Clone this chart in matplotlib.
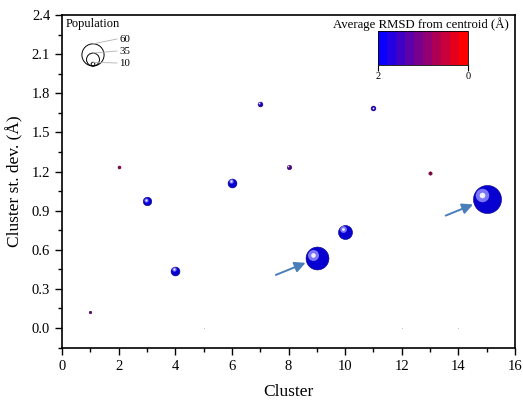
import numpy as np
import matplotlib
matplotlib.use("Agg")
import matplotlib.pyplot as plt
from matplotlib import transforms
from matplotlib.colors import LinearSegmentedColormap, Normalize, to_rgb
from matplotlib.ticker import MultipleLocator, AutoMinorLocator
from matplotlib.cm import ScalarMappable

plt.rcParams['font.family'] = ['Liberation Serif', 'DejaVu Serif']

# podaci procitani sa slike
cluster = [1, 2, 3, 4, 5, 6, 7, 8, 9, 10, 11, 12, 13, 14, 15]
st_dev = [0.12, 1.235, 0.975, 0.44, 0.0, 1.115, 1.72, 1.237, 0.535, 0.74, 1.685, 0.0, 1.186, 0.0, 0.99]
population = [7, 8, 23, 24, 0.4, 24, 13, 12, 62, 38, 13, 0.4, 9, 0.4, 76]
rmsd = [1.0, 0.6, 1.8, 1.8, 0.0, 1.8, 1.75, 1.3, 1.95, 1.95, 1.75, 0.0, 0.7, 0.0, 1.95]
legend_pop = [60, 35, 10]
strelice = [9, 15]  # klasteri na koje pokazuju strelice

W, H = 523, 407
fig = plt.figure(figsize=(W / 100, H / 100), dpi=100)
ax = fig.add_axes([62 / W, 1 - 348 / H, (515 - 62) / W, (348 - 15) / H])

# 0 -> crveno, 2 -> plavo
cmap = LinearSegmentedColormap.from_list("crveno_plavo", ["#ff0000", "#0a00ff"], N=10)
norm = Normalize(vmin=0, vmax=2)
K = 0.266  # promjer u tockama po jedinici populacije


def kugla(x, y, pop, boja):
    d = K * pop
    r = d / 2
    base = np.array(to_rgb(boja))
    tr = ax.transData
    ax.scatter([x], [y], s=d ** 2, color=base * 0.82, edgecolors=[base * 0.5], linewidths=0.4,
               transform=tr, zorder=3, clip_on=False)
    if d < 3:
        return
    off = transforms.offset_copy(tr, fig=fig, x=-0.3 * r, y=0.3 * r, units='points')
    svijetla = base * 0.45 + 0.55
    ax.scatter([x], [y], s=(0.48 * d) ** 2, color=svijetla, linewidths=0,
               transform=off, zorder=4, clip_on=False, alpha=0.85)
    ax.scatter([x], [y], s=(0.2 * d) ** 2, color="white", linewidths=0,
               transform=off, zorder=5, clip_on=False, alpha=0.9)


for c, s, p, r in zip(cluster, st_dev, population, rmsd):
    kugla(c, s, p, cmap(norm(r)))

# strelice
for c in strelice:
    i = cluster.index(c)
    r = K * population[i] / 2
    ax.annotate("", xy=(cluster[i], st_dev[i]), xytext=(-29.5, -12), textcoords="offset points",
                arrowprops=dict(arrowstyle="-|>", color="#4a7ebb", lw=1.4, shrinkA=0,
                                shrinkB=r + 0.5, mutation_scale=16), zorder=6)

ax.set_xlim(0, 16)
ax.set_ylim(-0.153, 2.4)
ax.xaxis.set_major_locator(MultipleLocator(2))
ax.xaxis.set_minor_locator(MultipleLocator(1))
ax.yaxis.set_major_locator(MultipleLocator(0.3))
ax.yaxis.set_minor_locator(AutoMinorLocator(2))
ax.tick_params(which="both", direction="out", top=False, right=False, labelsize=10.5, width=1.0)
ax.tick_params(which="major", length=5)
ax.tick_params(which="minor", length=3)
for sp in ax.spines.values():
    sp.set_linewidth(1.2)
ax.yaxis.set_major_formatter(plt.FuncFormatter(lambda v, _: f"{v:.1f}"))
ax.set_xlabel("Cluster", fontsize=12.5, labelpad=8)
ax.set_ylabel("Cluster st. dev. (Å)", fontsize=12.5, labelpad=6)


# legenda populacije (pikseli slike)
def px(x, y):
    return x / W, 1 - y / H


fig.text(*px(66, 24), "Population", fontsize=9, va="center", ha="left")
dno = 66
label_y = [39, 51, 63]
for p, ly in zip(legend_pop, label_y):
    d = K * p
    r_px = d / 2 / 0.72
    cx, cy = px(93, dno - r_px)
    ax.scatter([cx], [cy], s=d ** 2, facecolors="none", edgecolors="black", linewidths=0.7,
               transform=fig.transFigure, clip_on=False, zorder=7)
    vrh = dno - 2 * r_px
    fig.add_artist(plt.Line2D([93 / W, 117 / W], [1 - vrh / H, 1 - ly / H], color="#b0b0b0", lw=0.6))
    fig.text(*px(119, ly), str(p), fontsize=7.8, va="center", ha="left")

# skala boja
cax = fig.add_axes([378 / W, 1 - 65 / H, 90 / W, 34 / H])
sm = ScalarMappable(norm=norm, cmap=cmap)
cb = fig.colorbar(sm, cax=cax, orientation="horizontal")
cb.set_ticks([2, 0])
cb.set_ticklabels(["2", "0"])
cax.invert_xaxis()
cb.outline.set_linewidth(0.6)
cax.tick_params(labelsize=7.5, length=4, width=0.8, direction="out", pad=1)
fig.text(*px(509, 24), "Average RMSD from centroid (Å)", fontsize=9.2, ha="right", va="center")

fig.savefig("out.png", dpi=100)
